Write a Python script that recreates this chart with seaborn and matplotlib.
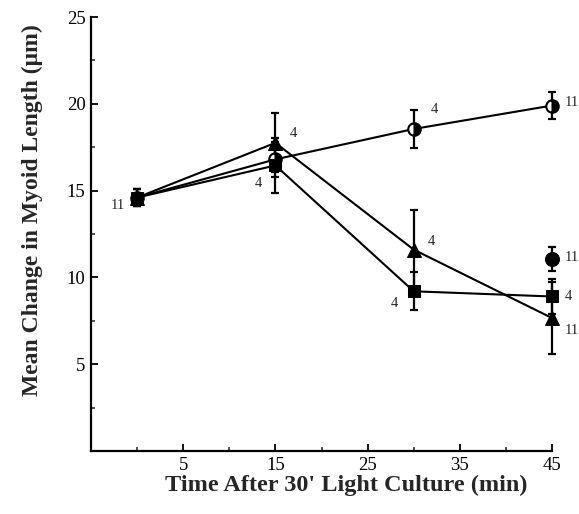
import numpy as np
import pandas as pd
import matplotlib
matplotlib.use("Agg")
import matplotlib.pyplot as plt
import seaborn as sns
from matplotlib.ticker import FixedLocator

# ---- data ----
time = [0, 15, 30, 45]
open_circle = [14.6, 16.8, 18.55, 19.9]
open_circle_err = [0.5, 1.0, 1.1, 0.8]
open_circle_n = ["11", "", "4", "11"]

square = [14.6, 16.45, 9.2, 8.9]
square_err = [0.5, 1.6, 1.1, 1.0]
square_n = ["", "4", "4", "4"]

triangle = [14.6, 17.75, 11.6, 7.66]
triangle_err = [0.5, 1.7, 2.3, 2.1]
triangle_n = ["", "4", "4", "11"]

filled_time = [45]
filled_circle = [11.05]
filled_circle_err = [0.7]
filled_circle_n = ["11"]

x_ticks = [5, 15, 25, 35, 45]
x_minor = [0, 10, 20, 30, 40]
y_ticks = [5, 10, 15, 20, 25]
y_minor = [2.5, 7.5, 12.5, 17.5, 22.5]

sns.set_theme(style="ticks")
plt.rcParams["font.family"] = ["Liberation Serif", "DejaVu Serif"]

fig = plt.figure(figsize=(5.79, 5.14), dpi=100)
ax = fig.add_axes([91 / 579, 1 - 451 / 514, (552 - 91) / 579, (451 - 17) / 514])

df = pd.concat([
    pd.DataFrame({"time": time, "value": open_circle, "err": open_circle_err, "series": "open"}),
    pd.DataFrame({"time": time, "value": square, "err": square_err, "series": "square"}),
    pd.DataFrame({"time": time, "value": triangle, "err": triangle_err, "series": "triangle"}),
])

# error bars first (behind markers)
for s, d in df.groupby("series"):
    ax.errorbar(d["time"], d["value"], yerr=d["err"], fmt="none", ecolor="black",
                elinewidth=1.6, capsize=3, capthick=1.6, clip_on=False, zorder=2)
ax.errorbar(filled_time, filled_circle, yerr=filled_circle_err, fmt="none", ecolor="black",
            elinewidth=1.6, capsize=3, capthick=1.6, clip_on=False, zorder=2)

sns.lineplot(data=df[df.series == "open"], x="time", y="value", ax=ax, color="black",
             lw=1.5, marker="o", markersize=9, markerfacecolor="white",
             markeredgecolor="black", markeredgewidth=1.5, clip_on=False, zorder=3,
             errorbar=None, legend=False)
sns.lineplot(data=df[df.series == "triangle"], x="time", y="value", ax=ax, color="black",
             lw=1.5, marker="^", markersize=10, markerfacecolor="black",
             markeredgecolor="black", clip_on=False, zorder=4, errorbar=None, legend=False)
sns.lineplot(data=df[df.series == "square"], x="time", y="value", ax=ax, color="black",
             lw=1.5, marker="s", markersize=9, markerfacecolor="black",
             markeredgecolor="black", clip_on=False, zorder=5, errorbar=None, legend=False)
sns.scatterplot(x=filled_time, y=filled_circle, ax=ax, color="black", s=100,
                marker="o", edgecolor="black", clip_on=False, zorder=5, legend=False)

# half-filled look for the open circles (right half black)
for line in ax.lines:
    if line.get_marker() == "o":
        line.set_fillstyle("right")
        line.set_markerfacecolor("black")
        line.set_markerfacecoloralt("white")

# n labels (offsets in points)
def label(xs, ys, labels, offsets, ha_list):
    for xv, yv, t, off, ha in zip(xs, ys, labels, offsets, ha_list):
        if t:
            ax.annotate(t, xy=(xv, yv), xytext=off, textcoords="offset points",
                        ha=ha, va="center", fontsize=10.5, annotation_clip=False)

label(time, open_circle, open_circle_n,
      [(-9, -6), (0, 0), (12, 14), (9, 2)], ["right", "left", "left", "left"])
label(time, square, square_n,
      [(0, 0), (-10, -13), (-11, -9), (9, 0)], ["right", "right", "right", "left"])
label(time, triangle, triangle_n,
      [(0, 0), (10, 7), (10, 6), (9, -9)], ["right", "left", "left", "left"])
label(filled_time, filled_circle, filled_circle_n, [(9, 1)], ["left"])

ax.set_xlim(-5, 45)
ax.set_ylim(0, 25)
ax.xaxis.set_major_locator(FixedLocator(x_ticks))
ax.xaxis.set_minor_locator(FixedLocator(x_minor))
ax.yaxis.set_major_locator(FixedLocator(y_ticks))
ax.yaxis.set_minor_locator(FixedLocator(y_minor))
ax.tick_params(axis="both", which="major", direction="in", length=5, width=1.3,
               labelsize=13.5, colors="black")
ax.tick_params(axis="both", which="minor", direction="in", length=3, width=1.1)
ax.tick_params(axis="x", which="major", pad=4)
ax.tick_params(axis="y", which="major", pad=4)

sns.despine(ax=ax)
for sp in ("left", "bottom"):
    ax.spines[sp].set_linewidth(1.6)
    ax.spines[sp].set_color("black")

ax.set_xlabel("Time After 30' Light Culture (min)", fontsize=17.5, fontweight="bold")
ax.xaxis.set_label_coords(0.554, -0.056)
ax.set_ylabel("Mean Change in Myoid Length (\u03bcm)", fontsize=17, fontweight="bold")
ax.yaxis.set_label_coords(-0.105, 0.555)

fig.savefig("out.png", dpi=100, facecolor="white")
